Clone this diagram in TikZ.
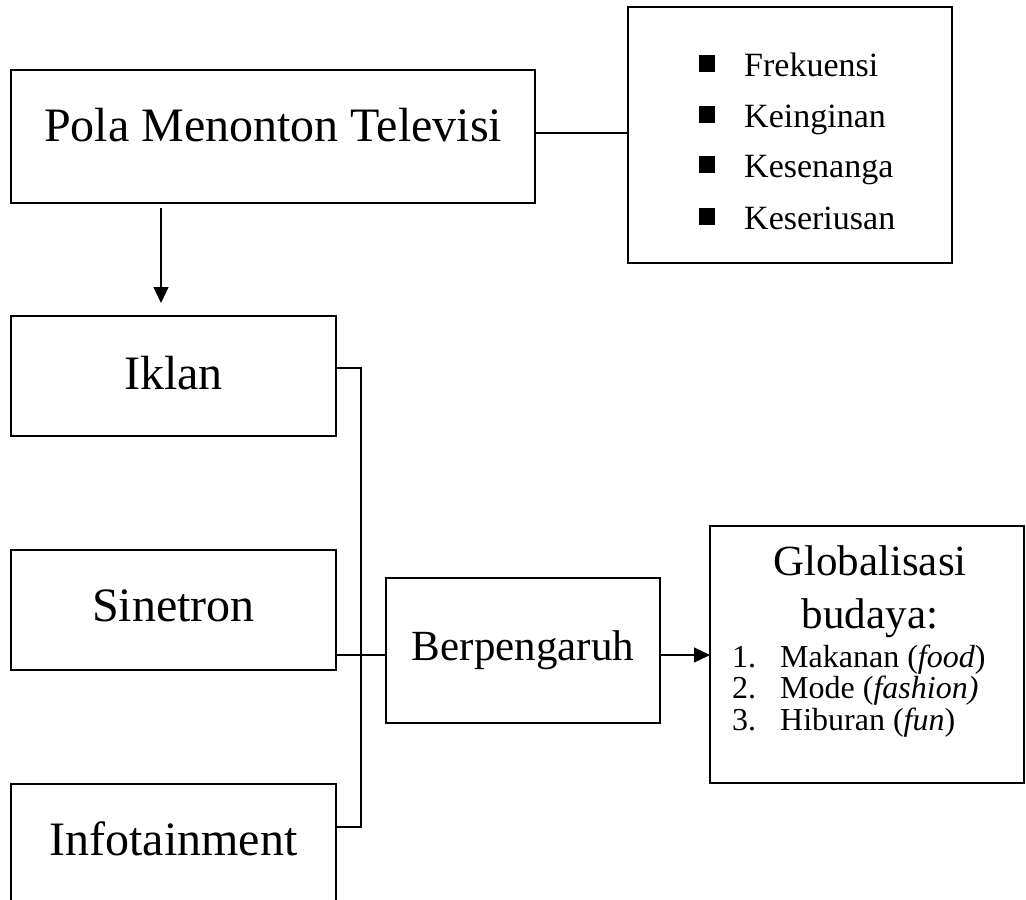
\documentclass[tikz,border=0pt]{standalone}
\usepackage{fontspec}
\setmainfont{Liberation Serif}
\usetikzlibrary{arrows.meta}
\begin{document}
\begin{tikzpicture}[x=1pt,y=-1pt,
  box/.style={draw, line width=1.6pt, inner sep=0pt, outer sep=0pt, anchor=north west},
  link/.style={line width=1.2pt},
  flow/.style={line width=1.2pt, -{Triangle[length=16pt,width=15pt]}},
  label/.style={inner sep=0pt, anchor=base},
  big/.style={label, font=\fontsize{48}{56}\selectfont},
  mid/.style={label, font=\fontsize{43}{50}\selectfont},
  item/.style={label, anchor=base west, font=\fontsize{34}{40}\selectfont},
  sub/.style={label, anchor=base west, font=\fontsize{32}{36}\selectfont},
  bullet/.style={fill, inner sep=0pt, minimum width=16pt, minimum height=17pt, anchor=north west}
]
\useasboundingbox (0,0) rectangle (1026,900);

% boxes
\node[box, minimum width=524pt, minimum height=133pt] (pola) at (11,70) {};
\node[box, minimum width=324pt, minimum height=256pt] (frek) at (628,7) {};
\node[box, minimum width=325pt, minimum height=120pt] (iklan) at (11,316) {};
\node[box, minimum width=325pt, minimum height=120pt] (sinet) at (11,550) {};
\node[box, minimum width=325pt, minimum height=150pt] (infot) at (11,784) {};
\node[box, minimum width=274pt, minimum height=145pt] (berp) at (386,578) {};
\node[box, minimum width=314pt, minimum height=257pt] (glob) at (710,526) {};

% box texts
\node[big] (tpola) at (273,141) {Pola Menonton Televisi};
\node[big] (tiklan) at (173.5,389) {Iklan};
\node[big] (tsinet) at (173.5,621) {Sinetron};
\node[big] (tinfot) at (173.5,855) {Infotainment};
\node[mid] (tberp) at (523,660) {Berpengaruh};
\node[mid] (tglob1) at (870,575) {Globalisasi};
\node[mid] (tglob2) at (870,628) {budaya:};

% indicator list
\node[bullet] (b1) at (699,55) {};
\node[bullet] (b2) at (699,106) {};
\node[bullet] (b3) at (699,156) {};
\node[bullet] (b4) at (699,208) {};
\node[item] (f1) at (744,76) {Frekuensi};
\node[item] (f2) at (744,127) {Keinginan};
\node[item] (f3) at (744,177) {Kesenanga};
\node[item] (f4) at (744,229) {Keseriusan};

% cultural aspects
\node[sub] (n1) at (732,667) {1.};
\node[sub] (n2) at (732,698) {2.};
\node[sub] (n3) at (732,730) {3.};
\node[sub] (g1) at (780,667) {Makanan (\textit{food})};
\node[sub] (g2) at (780,698) {Mode (\textit{fashion)}};
\node[sub] (g3) at (780,730) {Hiburan (\textit{fun})};

% connectors
\coordinate (pe) at ([yshift=3.5pt]pola.east);
\draw[link] (pe) -- (pe -| frek.west);

\coordinate (pd) at ([xshift=150pt,yshift=-5pt]pola.south west);
\draw[flow] (pd) -- (pd |- iklan.north) [shorten >=13pt];

\coordinate (ik) at ([yshift=-52pt]iklan.north east);
\coordinate (si) at ([yshift=-105pt]sinet.north east);
\coordinate (in) at ([yshift=-43pt]infot.north east);
\draw[link] (ik) -- ++(25,0) |- (in);
\draw[link] (si) -- (si -| berp.west);
\draw[flow] (si -| berp.east) -- (si -| glob.west);
\end{tikzpicture}
\end{document}
